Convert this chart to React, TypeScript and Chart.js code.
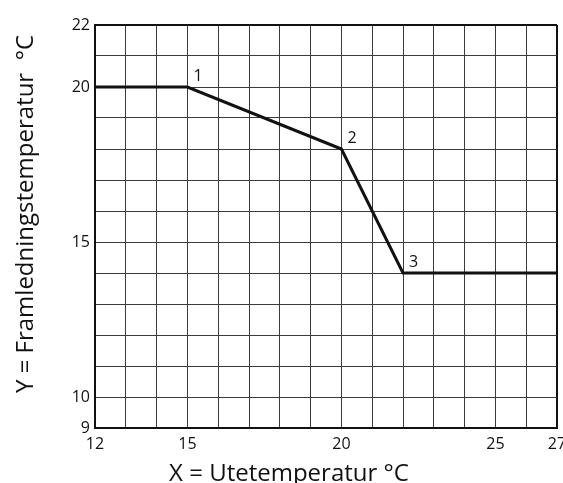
import React, { useEffect, useRef } from "react";
import { Chart, registerables } from "chart.js";

Chart.register(...registerables);

const xValues = [12, 15, 20, 22, 27];
const yValues = [20, 20, 18, 14, 14];
const pointLabels = ["", "1", "2", "3", ""];
const xTickLabels = [12, 15, 20, 25, 27];
const yTickLabels = [9, 10, 15, 20, 22];
const xTitle = "X = Utetemperatur °C";
const yTitle = "Y = Framledningstemperatur  °C";

const FONT = "'Open Sans', 'Noto Sans', sans-serif";

const pointLabelPlugin = {
  id: "pointLabels",
  afterDatasetsDraw(chart: any) {
    const ctx = chart.ctx;
    const xs = chart.scales.x;
    const ys = chart.scales.y;
    ctx.save();
    ctx.font = `16px ${FONT}`;
    ctx.fillStyle = "#111";
    ctx.textAlign = "left";
    ctx.textBaseline = "middle";
    xValues.forEach((xv, i) => {
      const t = pointLabels[i];
      if (!t) return;
      ctx.fillText(t, xs.getPixelForValue(xv) + 6, ys.getPixelForValue(yValues[i]) - 11);
    });
    ctx.restore();
  },
};

const axisTitlePlugin = {
  id: "axisTitles",
  afterDraw(chart: any) {
    const ctx = chart.ctx;
    ctx.save();
    ctx.font = `24px ${FONT}`;
    ctx.fillStyle = "#111";
    ctx.textAlign = "center";
    ctx.textBaseline = "alphabetic";
    ctx.fillText(xTitle, 289, 481);
    ctx.translate(33, 214);
    ctx.rotate(-Math.PI / 2);
    ctx.fillText(yTitle, 0, 0);
    ctx.restore();
  },
};

export default function App() {
  const ref = useRef<HTMLCanvasElement>(null);
  useEffect(() => {
    document.body.style.margin = "0";
    const canvas = ref.current!;
    const chart = new Chart(canvas, {
      type: "line",
      data: {
        datasets: [
          {
            data: xValues.map((x, i) => ({ x, y: yValues[i] })),
            borderColor: "#111",
            borderWidth: 3,
            pointRadius: 0,
            tension: 0,
            fill: false,
          },
        ],
      },
      options: {
        animation: false,
        responsive: false,
        devicePixelRatio: 1,
        layout: { padding: { top: 25, right: 6, left: 0, bottom: 0 } },
        plugins: { legend: { display: false }, tooltip: { enabled: false } },
        scales: {
          x: {
            type: "linear",
            min: 12,
            max: 27,
            ticks: {
              stepSize: 1,
              autoSkip: false,
              maxRotation: 0,
              padding: 7,
              color: "#111",
              font: { family: FONT, size: 16 },
              callback: (v: any) => (xTickLabels.includes(Number(v)) ? String(v) : ""),
            },
            grid: {
              drawTicks: false,
              color: (c: any) => (c.tick && c.tick.value === 27 ? "#111" : "#3a3a3a"),
              lineWidth: (c: any) => (c.tick && c.tick.value === 27 ? 2 : 1),
            },
            border: { display: true, color: "#111", width: 2 },
            title: { display: false },
            afterFit: (s: any) => {
              s.height = 55;
              s.paddingLeft = 0;
              s.paddingRight = 0;
            },
          } as any,
          y: {
            type: "linear",
            min: 9,
            max: 22,
            ticks: {
              stepSize: 1,
              autoSkip: false,
              padding: 5,
              color: "#111",
              font: { family: FONT, size: 16 },
              callback: (v: any) => (yTickLabels.includes(Number(v)) ? String(v) : ""),
            },
            grid: {
              drawTicks: false,
              color: (c: any) => (c.tick && c.tick.value === 22 ? "#111" : "#3a3a3a"),
              lineWidth: (c: any) => (c.tick && c.tick.value === 22 ? 2 : 1),
            },
            border: { display: true, color: "#111", width: 2 },
            title: { display: false },
            afterFit: (s: any) => {
              s.width = 95;
              s.paddingTop = 0;
              s.paddingBottom = 0;
            },
          } as any,
        },
      },
      plugins: [pointLabelPlugin, axisTitlePlugin],
    });
    return () => chart.destroy();
  }, []);
  return (
    <div style={{ position: "fixed", left: 0, top: 0, width: 563, height: 483, background: "#fff" }}>
      <canvas ref={ref} width={563} height={483} style={{ display: "block" }} />
    </div>
  );
}
